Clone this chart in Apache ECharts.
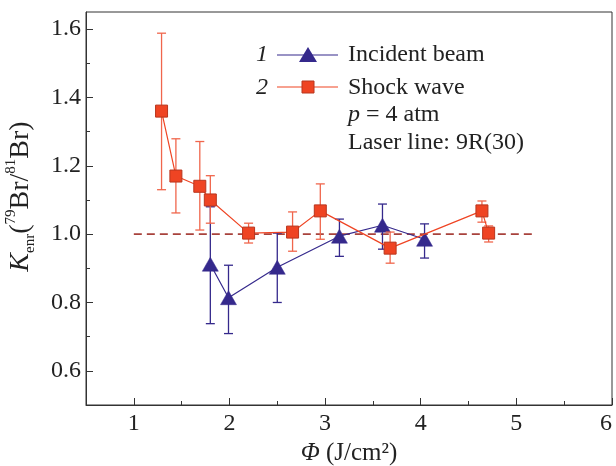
<!DOCTYPE html>
<html><head><meta charset="utf-8">
<script src="https://cdn.jsdelivr.net/npm/echarts@6/dist/echarts.min.js"></script>
<style>html,body{margin:0;padding:0;background:#fff}#c{width:616px;height:466px}</style>
</head><body><div id="c"></div>
<script>
// Shock wave (series 2)
const shockX = [1.29, 1.44, 1.69, 1.80, 2.20, 2.66, 2.95, 3.68, 4.64, 4.71];
const shockY = [1.36, 1.17, 1.14, 1.10, 1.003, 1.006, 1.068, 0.959, 1.068, 1.003];
const shockLow = [1.13, 1.062, 1.012, 1.032, 0.974, 0.95, 0.985, 0.915, 1.035, 0.977];
const shockHigh = [1.588, 1.279, 1.271, 1.171, 1.032, 1.065, 1.147, 1.006, 1.097, 1.024];
// Incident beam (series 1)
const beamX = [1.80, 1.99, 2.50, 3.15, 3.60, 4.04];
const beamY = [0.912, 0.814, 0.903, 0.994, 1.026, 0.985];
const beamLow = [0.738, 0.709, 0.80, 0.935, 0.956, 0.93];
const beamHigh = [1.08, 0.909, 1.003, 1.044, 1.088, 1.03];
// reference dashed line
const refX = [1.0, 5.19];
const refY = [1.0, 1.0];
// ticks
const xMajor = [1, 2, 3, 4, 5, 6];
const xMinor = [1.5, 2.5, 3.5, 4.5, 5.5];
const yMajor = [0.6, 0.8, 1.0, 1.2, 1.4, 1.6];
const yMinor = [0.7, 0.9, 1.1, 1.3, 1.5];

const FONT = 'Liberation Serif';
const RED = '#ef4423', RED_DARK = '#b8361e', RED_ERR = '#f0664c';
const BLUE = '#35298c';
const TXT = '#222';

function errBar(color, xs, lo, hi, z) {
  return {
    type: 'custom', z: z, silent: true,
    data: xs.map((x, i) => [x, lo[i], hi[i]]),
    encode: { x: 0, y: [1, 2] },
    renderItem: (params, api) => {
      const t = api.coord([api.value(0), api.value(2)]);
      const b = api.coord([api.value(0), api.value(1)]);
      const w = 4.5;
      const st = { stroke: color, lineWidth: 1.3 };
      return { type: 'group', children: [
        { type: 'line', shape: { x1: t[0], y1: t[1], x2: b[0], y2: b[1] }, style: st },
        { type: 'line', shape: { x1: t[0] - w, y1: t[1], x2: t[0] + w, y2: t[1] }, style: st },
        { type: 'line', shape: { x1: b[0] - w, y1: b[1], x2: b[0] + w, y2: b[1] }, style: st }
      ]};
    }
  };
}

const axisCol = '#333';
const tickFont = { fontFamily: FONT, fontSize: 24, color: TXT };

const option = {
  animation: false,
  grid: { left: 86, right: 4, top: 12, bottom: 61, show: true, borderColor: axisCol, borderWidth: 1,
          containLabel: false, outerBoundsMode: 'none' },
  xAxis: [
    { type: 'value', min: 0.5, max: 6, position: 'bottom',
      axisLine: { lineStyle: { color: axisCol, width: 1 } },
      axisTick: { inside: true, length: 7, customValues: xMajor, lineStyle: { color: axisCol } },
      axisLabel: Object.assign({ customValues: xMajor, margin: 7, alignMaxLabel: 'right' }, tickFont),
      splitLine: { show: false },
      name: '{i|Φ} (J/cm²)', nameLocation: 'middle', nameGap: 36,
      nameTextStyle: { fontFamily: FONT, fontSize: 25, color: TXT, rich: { i: { fontFamily: FONT, fontSize: 25, fontStyle: 'italic', color: TXT } } }
    },
    { type: 'value', min: 0.5, max: 6, position: 'bottom',
      axisLine: { show: false },
      axisTick: { inside: true, length: 4, customValues: xMinor, lineStyle: { color: axisCol } },
      axisLabel: { show: false }, splitLine: { show: false }
    }
  ],
  yAxis: [
    { type: 'value', min: 0.5, max: 1.65, position: 'left',
      axisLine: { show: true, lineStyle: { color: axisCol, width: 1 } },
      axisTick: { show: true, inside: true, length: 7, customValues: yMajor, lineStyle: { color: axisCol } },
      axisLabel: Object.assign({ customValues: yMajor, margin: 5, formatter: v => v.toFixed(1) }, tickFont),
      splitLine: { show: false },
      name: '{i|K}{sub|enr}{n|(}{sup|79}{n|Br/}{sup|81}{n|Br)}', nameLocation: 'middle', nameGap: 48,
      nameTextStyle: { fontFamily: FONT, fontSize: 28, color: TXT, lineHeight: 34, padding: [0, 0, 0, 24],
        rich: {
          n: { fontFamily: FONT, fontSize: 28, color: TXT, lineHeight: 34 },
          i: { fontFamily: FONT, fontSize: 28, fontStyle: 'italic', color: TXT, lineHeight: 34 },
          sub: { fontFamily: FONT, fontSize: 15, color: TXT, verticalAlign: 'bottom', lineHeight: 34, padding: [12, 0, 0, 0] },
          sup: { fontFamily: FONT, fontSize: 15, color: TXT, verticalAlign: 'top', lineHeight: 34, padding: [0, 0, 12, 0] }
        } }
    },
    { type: 'value', min: 0.5, max: 1.65, position: 'left',
      axisLine: { show: false },
      axisTick: { show: true, inside: true, length: 4, customValues: yMinor, lineStyle: { color: axisCol } },
      axisLabel: { show: false }, splitLine: { show: false }
    }
  ],
  series: [
    { type: 'line', data: refX.map((x, i) => [x, refY[i]]), symbol: 'none', z: 1,
      lineStyle: { color: '#a8423c', width: 1.6, type: [8, 5] }, silent: true },
    errBar(BLUE, beamX, beamLow, beamHigh, 2),
    { type: 'line', name: 'Incident beam', data: beamX.map((x, i) => [x, beamY[i]]), z: 3,
      symbol: 'triangle', symbolSize: [16, 14],
      lineStyle: { color: BLUE, width: 1.2 },
      itemStyle: { color: BLUE, borderColor: BLUE, borderWidth: 0.5 } },
    errBar(RED_ERR, shockX, shockLow, shockHigh, 4),
    { type: 'line', name: 'Shock wave', data: shockX.map((x, i) => [x, shockY[i]]), z: 5,
      symbol: 'rect', symbolSize: 12,
      lineStyle: { color: RED, width: 1.2 },
      itemStyle: { color: RED, borderColor: RED_DARK, borderWidth: 1 } }
  ],
  graphic: [
    { type: 'text', left: 256, top: 43, style: { text: '1', font: 'italic 24px ' + FONT, fill: TXT } },
    { type: 'line', shape: { x1: 277, y1: 55, x2: 338, y2: 55 }, style: { stroke: BLUE, lineWidth: 1.2 } },
    { type: 'polygon', shape: { points: [[299, 62], [317, 62], [308, 47]] }, style: { fill: BLUE } },
    { type: 'text', left: 348, top: 43, style: { text: 'Incident beam', font: '24px ' + FONT, fill: TXT } },
    { type: 'text', left: 256, top: 76, style: { text: '2', font: 'italic 24px ' + FONT, fill: TXT } },
    { type: 'line', shape: { x1: 277, y1: 87, x2: 338, y2: 87 }, style: { stroke: RED, lineWidth: 1.2 } },
    { type: 'rect', shape: { x: 302, y: 81, width: 12, height: 12 }, style: { fill: RED, stroke: RED_DARK, lineWidth: 1 } },
    { type: 'text', left: 348, top: 76, style: { text: 'Shock wave', font: '24px ' + FONT, fill: TXT } },
    { type: 'text', left: 348, top: 103, style: { rich: { i: { fontStyle: 'italic', fontFamily: FONT, fontSize: 24, fill: TXT }, n: { fontFamily: FONT, fontSize: 24, fill: TXT } }, text: '{i|p}{n| = 4 atm}' } },
    { type: 'text', left: 348, top: 131, style: { text: 'Laser line: 9R(30)', font: '24px ' + FONT, fill: TXT } }
  ]
};
const chart = echarts.init(document.getElementById('c'), null, { renderer: 'canvas' });
chart.setOption(option);
</script>
</body></html>
